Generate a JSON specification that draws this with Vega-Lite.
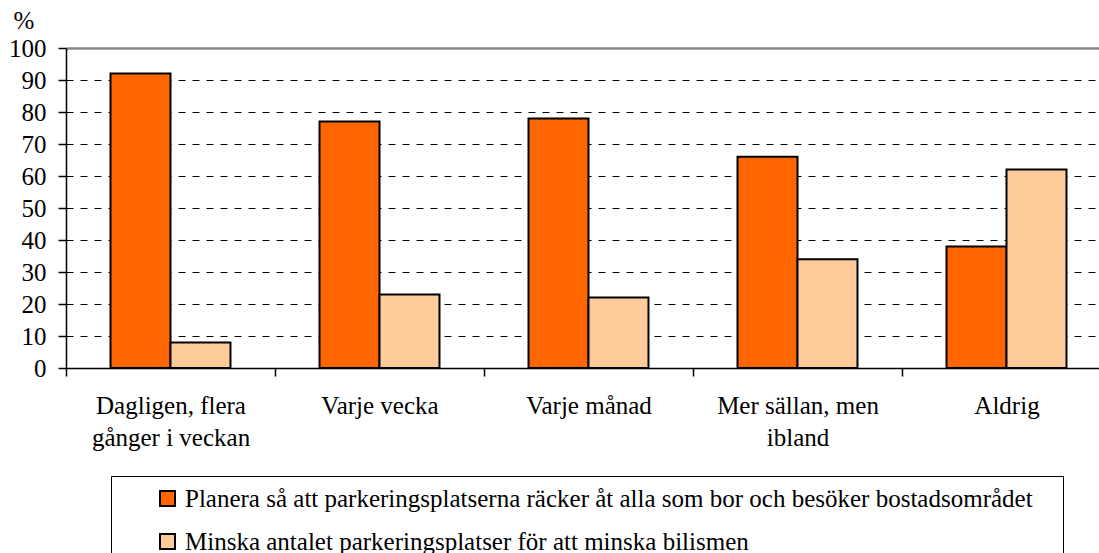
{
  "$schema": "https://vega.github.io/schema/vega-lite/v6.json",
  "width": 1045,
  "height": 320,
  "autosize": {"type": "none"},
  "padding": {"left": 66, "top": 48, "right": 0, "bottom": 185},
  "background": "white",
  "config": {
    "view": {"stroke": null},
    "font": "Liberation Serif"
  },
  "data": {
    "values": [
      {"kategori": "Dagligen, flera gånger i veckan", "serie": "Planera så att parkeringsplatserna räcker åt alla som bor och besöker bostadsområdet", "procent": 92},
      {"kategori": "Dagligen, flera gånger i veckan", "serie": "Minska antalet parkeringsplatser för att minska bilismen", "procent": 8},
      {"kategori": "Varje vecka", "serie": "Planera så att parkeringsplatserna räcker åt alla som bor och besöker bostadsområdet", "procent": 77},
      {"kategori": "Varje vecka", "serie": "Minska antalet parkeringsplatser för att minska bilismen", "procent": 23},
      {"kategori": "Varje månad", "serie": "Planera så att parkeringsplatserna räcker åt alla som bor och besöker bostadsområdet", "procent": 78},
      {"kategori": "Varje månad", "serie": "Minska antalet parkeringsplatser för att minska bilismen", "procent": 22},
      {"kategori": "Mer sällan, men ibland", "serie": "Planera så att parkeringsplatserna räcker åt alla som bor och besöker bostadsområdet", "procent": 66},
      {"kategori": "Mer sällan, men ibland", "serie": "Minska antalet parkeringsplatser för att minska bilismen", "procent": 34},
      {"kategori": "Aldrig", "serie": "Planera så att parkeringsplatserna räcker åt alla som bor och besöker bostadsområdet", "procent": 38},
      {"kategori": "Aldrig", "serie": "Minska antalet parkeringsplatser för att minska bilismen", "procent": 62}
    ]
  },
  "mark": {"type": "bar", "stroke": "black", "strokeWidth": 2},
  "encoding": {
    "x": {
      "field": "kategori",
      "type": "nominal",
      "sort": ["Dagligen, flera gånger i veckan", "Varje vecka", "Varje månad", "Mer sällan, men ibland", "Aldrig"],
      "scale": {"paddingInner": 0, "paddingOuter": 0},
      "axis": {
        "title": null,
        "labelAngle": 0,
        "labelFont": "Liberation Serif",
        "labelFontSize": 25,
        "labelColor": "black",
        "labelLineHeight": 32,
        "labelPadding": 17,
        "labelBaseline": "top",
        "labelExpr": "datum.value == 'Dagligen, flera gånger i veckan' ? ['Dagligen, flera', 'gånger i veckan'] : datum.value == 'Mer sällan, men ibland' ? ['Mer sällan, men', 'ibland'] : datum.value",
        "tickBand": "extent",
        "tickSize": 8,
        "tickColor": "black",
        "tickWidth": 1.5,
        "domainColor": "black",
        "domainWidth": 1.5,
        "grid": false
      }
    },
    "xOffset": {
      "field": "serie",
      "type": "nominal",
      "sort": ["Planera så att parkeringsplatserna räcker åt alla som bor och besöker bostadsområdet", "Minska antalet parkeringsplatser för att minska bilismen"],
      "scale": {"paddingInner": 0, "paddingOuter": 0.742}
    },
    "y": {
      "field": "procent",
      "type": "quantitative",
      "scale": {"domain": [0, 100]},
      "axis": {
        "title": "%",
        "titleAngle": 0,
        "titleFont": "Liberation Serif",
        "titleFontSize": 25,
        "titleFontWeight": "normal",
        "titleColor": "black",
        "titleAlign": "left",
        "titleBaseline": "alphabetic",
        "titleX": -53,
        "titleY": -20,
        "values": [0, 10, 20, 30, 40, 50, 60, 70, 80, 90, 100],
        "labelFont": "Liberation Serif",
        "labelFontSize": 25,
        "labelColor": "black",
        "labelPadding": 12,
        "tickSize": 8,
        "tickColor": "black",
        "tickWidth": 1.5,
        "domainColor": "black",
        "domainWidth": 1.5,
        "grid": true,
        "gridColor": {"condition": {"test": "datum.value == 100", "value": "#888888"}, "value": "black"},
        "gridWidth": {"condition": {"test": "datum.value == 100", "value": 2.5}, "value": 1},
        "gridDash": {"condition": {"test": "datum.value == 100", "value": []}, "value": [7, 7]}
      }
    },
    "color": {
      "field": "serie",
      "type": "nominal",
      "sort": ["Planera så att parkeringsplatserna räcker åt alla som bor och besöker bostadsområdet", "Minska antalet parkeringsplatser för att minska bilismen"],
      "scale": {"range": ["#FF6600", "#FFCC99"]},
      "legend": {
        "title": "\u00a0",
        "titleOrient": "right",
        "titlePadding": 20,
        "titleFontSize": 25,
        "orient": "none",
        "legendX": 45,
        "legendY": 428,
        "direction": "vertical",
        "symbolType": "square",
        "symbolSize": 225,
        "symbolStrokeColor": "black",
        "symbolStrokeWidth": 2,
        "symbolOpacity": 1,
        "symbolOffset": 34,
        "labelFont": "Liberation Serif",
        "labelFontSize": 25,
        "labelColor": "black",
        "labelLimit": 2000,
        "labelOffset": 5,
        "rowPadding": 17,
        "padding": 10,
        "strokeColor": "black",
        "fillColor": "white"
      }
    }
  }
}
